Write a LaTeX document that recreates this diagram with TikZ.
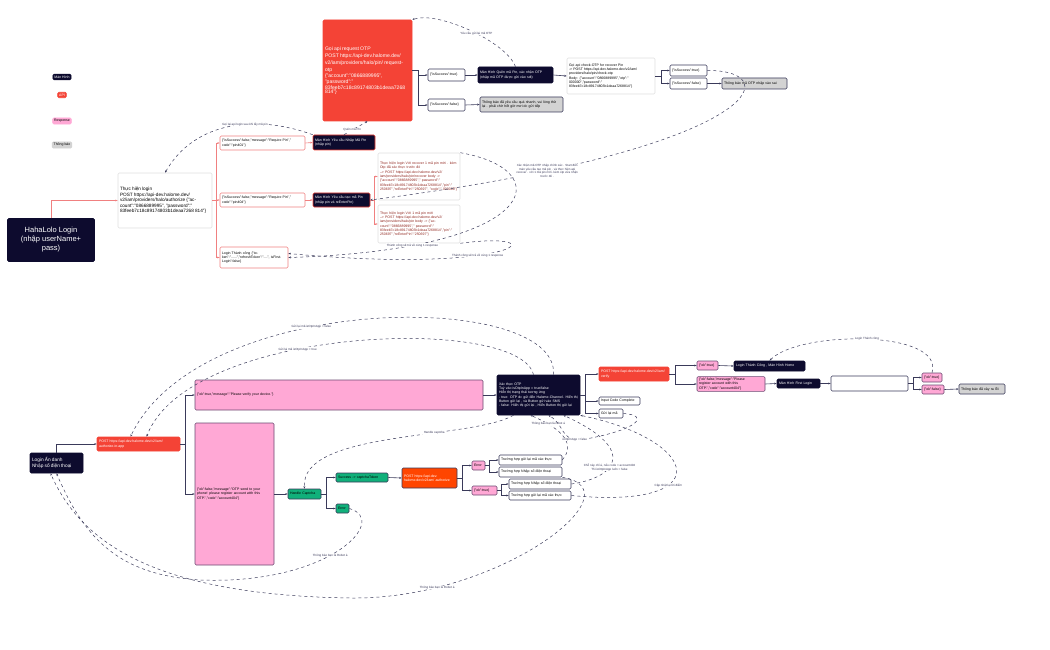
\documentclass[tikz,border=0pt]{standalone}
\usepackage{fontspec}
\setmainfont{Liberation Sans}
\usetikzlibrary{arrows.meta}
\definecolor{dk}{HTML}{0D0B2E}
\definecolor{apired}{HTML}{F44336}
\definecolor{pk}{HTML}{FFA8D5}
\definecolor{pkb}{HTML}{6B4A72}
\definecolor{gy}{HTML}{D3D3D3}
\definecolor{gr}{HTML}{10B07A}
\definecolor{lr}{HTML}{F08080}
\definecolor{ln}{HTML}{3A3A5A}
\definecolor{org}{HTML}{FF4500}
\newcommand\bx[7]{\node[#2,minimum width=\dimexpr #5pt-#3pt\relax,minimum height=\dimexpr #6pt-#4pt\relax,text width=\dimexpr #5pt-#3pt-4pt\relax] (#1) at ({(#3+#5)/2},{(#4+#6)/2}) {#7};}
\tikzset{
 base/.style={draw,rounded corners=1.2pt,inner sep=1.5pt,font=\fontsize{3.5}{4.3}\selectfont,align=left,line width=0.6pt},
 scr/.style={base,fill=dk,draw=dk,text=white},
 scrr/.style={base,fill=dk,draw=apired,text=white},
 api/.style={base,fill=apired,draw=apired,text=white},
 resp/.style={base,fill=pk,draw=pkb},
 note/.style={base,fill=gy,draw=ln},
 plain/.style={base,fill=white,draw=gray!25},
 outl/.style={base,fill=white,draw=ln},
 redo/.style={base,fill=white,draw=lr},
 grn/.style={base,fill=gr,draw=ln},
 conn/.style={draw=ln,line width=0.6pt,-{Stealth[length=2.5pt]}},
 rconn/.style={draw=lr,line width=0.6pt,-{Stealth[length=2.5pt]}},
 dsh/.style={draw=ln,dashed,line width=0.5pt,-{Stealth[length=2.5pt]}},
 lab/.style={font=\fontsize{3}{3.6}\selectfont,fill=white,inner sep=0.5pt,align=center,text=ln},
}
\begin{document}
\begin{tikzpicture}[x=1pt,y=-1pt]
\useasboundingbox (0,0) rectangle (1050,650);
% legend
\node[scr,align=center] (l1) at (62,77) {Màn Hình};
\node[api,align=center] (l2) at (62,95) {API};
\node[resp,draw=pk,align=center] (l3) at (62,121) {Response};
\node[note,draw=gy,align=center] (l4) at (62,145) {Thông báo};
% top part
\node[scr,align=center,font=\fontsize{7.5}{9}\selectfont,minimum width=87pt,minimum height=43pt] (hl) at (51,240) {HahaLolo Login\\(nhập userName+\\pass)};
\bx{login}{plain}{118}{173}{212}{228}{\fontsize{4.7}{6.3}\selectfont Thực hiện login\\POST https://api-dev.halome.dev/ v2/iam/providers/halo/authorize \{"account":"0866889995", "password":" 83feeb7c18c89174803b1deaa7268 814"\}}
\bx{r1}{redo}{220}{136}{305}{150}{\{"isSuccess":false,"message":"Require Pin"," code":"pin401"\}}
\bx{r2}{redo}{220}{193}{305}{207}{\{"isSuccess":false,"message":"Require Pin"," code":"pin404"\}}
\bx{r3}{redo}{220}{247}{288}{268}{Login Thành công \{"token":"......","refreshToken":"....", isFirstLogin":false\}}
\bx{pin1}{scrr}{313}{135}{375}{150}{Màn Hình Yêu cầu Nhập Mã Pin (nhập pin)}
\bx{pin2}{scrr}{313}{193}{370}{207}{Màn Hình Yêu cầu tạo mã Pin (nhập pin và reEnterPin)}
\bx{otp}{api}{323}{20}{412}{121}{\fontsize{5.1}{7.2}\selectfont Gọi api request OTP\\POST https://api-dev.halome.dev/ v2/iam/providers/halo/pin/ request-otp\\\{"account":"0866889995", "password":" 83feeb7c18c89174803b1deaa7268 814"\}}
\bx{t1}{plain}{378}{153}{460}{200}{\color{apired!60!black}Thực hiện login Với recover 1 mã pin mới . kèm Otp đã xác thực trước đó\\--> POST https://api-dev.halome.dev/v2/ iam/providers/halo/pin/recover body -> \{"account":"0866889995"," password":" 83feeb7c18c89174803b1deaa7268814","pin":" 250697","reEnterPin":"250697", "code":" 000000"\}}
\bx{t2}{plain}{378}{205}{460}{243}{\color{apired!60!black}Thực hiện login Với 1 mã pin mới\\--> POST https://api-dev.halome.dev/v2/ iam/providers/halo/pin body -> \{"account":"0866889995"," password":" 83feeb7c18c89174803b1deaa7268814","pin":" 250697","reEnterPin":"250697"\}}
\bx{st}{outl}{428}{69}{465}{81}{\{"isSuccess":true\}}
\bx{sf}{outl}{428}{99}{465}{111}{\{"isSuccess":false\}}
\bx{forgot}{scr}{478}{67}{553}{83}{Màn Hình Quên mã Pin, xác nhận OTP (nhập mã OTP được gửi vào sdt)}
\bx{nt1}{note}{480}{97}{563}{112}{Thông báo đã yêu cầu quá nhanh, vui lòng thử lại . phải chờ hết giờ mơi dc gửi tiếp}
\bx{chk}{plain}{567}{58}{655}{94}{Gọi api check-OTP for recover Pin\\-> POST https://api-dev.halome.dev/v2/iam/ providers/halo/pin/check-otp\\ Body: \{"account":"0866889995","otp":" 000000","password":" 83feeb7c18c89174803b1deaa7268814"\}}
\bx{ct}{outl}{670}{65}{707}{76}{\{"isSuccess":true\}}
\bx{cf}{outl}{670}{78}{707}{89}{\{"isSuccess":false\}}
\bx{nt2}{note}{722}{78}{787}{89}{Thông báo mã OTP nhập vào sai}
% top connectors
\draw[rconn] (hl.north) |- (login.west);
\foreach \t in {r1,r2,r3}{\draw[rconn] (login.east) -- ++(4,0) |- (\t.west);}
\draw[rconn] (r1.east) -- (pin1.west);
\draw[rconn] (r2.east) -- (pin2.west);
\draw[rconn] (pin2.east) -- ++(4,0) |- (t1.west);
\draw[rconn] (pin2.east) -- ++(4,0) |- (t2.west);
\draw[conn] (otp.east) -- ++(6,0) |- (st.west);
\draw[conn] (otp.east) -- ++(6,0) |- (sf.west);
\draw[conn] (st.east) -- (forgot.west);
\draw[conn] (sf.east) -- (nt1.west);
\draw[conn] (forgot.east) -- (chk.west);
\draw[conn] (chk.east) -- ++(6,0) |- (ct.west);
\draw[conn] (chk.east) -- ++(6,0) |- (cf.west);
\draw[conn] (cf.east) -- (nt2.west);
% top dashed
\draw[dsh] (pin1.north) -- node[lab,pos=0.35]{Quên mã Pin} (otp.south);
\draw[dsh] (pin1.north west) to[out=160,in=60] node[lab,pos=0.4]{Gọi lại api login sau khi lấy mã pin} (login.north);
\draw[dsh] (forgot.north) to[out=110,in=20,looseness=0.6] node[lab,pos=0.45]{Yêu cầu gửi lại mã OTP} (otp.north east);
\draw[dsh] (ct.east) .. controls (790,70) and (760,150) .. node[lab,pos=0.82]{Xác nhận mã OTP nhập chính xác . Start đến\\màn yêu cầu tạo mã pin . và thực hiện api\\recover . với 1 mã pin mới. kèm otp vừa nhận\\trước đó .} (pin2.east);
\draw[dsh] (t1.north east) .. controls (560,170) and (540,250) .. node[lab,pos=0.8]{Thành công sẽ trả về cùng 1 response} (r3.east);
\draw[dsh] (t2.south east) .. controls (560,230) and (520,275) .. node[lab,pos=0.6]{Thành công sẽ trả về cùng 1 response} ([yshift=4pt]r3.east);
% bottom part
\bx{anon}{scr}{30}{453}{83}{473}{\fontsize{4.8}{6.2}\selectfont Login Ẩn danh\\Nhập số điện thoại}
\bx{inapp}{api}{97}{437}{180}{451}{POST https://api-dev.halome.dev/v2/iam/ authorize-in-app}
\bx{pv}{resp}{195}{380}{483}{410}{\{"ok":true,"message":"Please verify your device."\}}
\bx{pr}{resp}{195}{423}{274}{565}{\{"ok":false,"message":"OTP send to your phone! please register account with this OTP.","code":"account404"\}}
\bx{hc}{grn}{288}{489}{321}{499}{Handle Captcha}
\bx{sc}{grn}{336}{473}{388}{482}{Success -> captchaToken}
\bx{er}{grn}{336}{504}{349}{513}{Error}
\bx{auth}{base,fill=org,draw=ln,text=white}{402}{468}{457}{488}{POST https://api-dev. halome.dev/v2/iam/ authorize}
\bx{e2}{resp}{472}{461}{485}{470}{Error}
\bx{ok2}{resp}{472}{486}{497}{495}{\{"ok":true\}}
\bx{c1}{outl}{499}{455}{562}{465}{Trường hợp gửi lại mã xác thực}
\bx{c2}{outl}{499}{467}{562}{477}{Trường hợp Nhập số điện thoại}
\bx{c3}{outl}{509}{479}{571}{489}{Trường hợp Nhập số điện thoại}
\bx{c4}{outl}{509}{491}{571}{500}{Trường hợp gửi lại mã xác thực}
\bx{xotp}{scr}{497}{375}{580}{415}{Xác thực OTP\\Tuỳ vào isOtpInApp = true/false\\Hiển thị trạng thái tương ứng\\- true: OTP dc gửi đến Halome-Channel. Hiển thị Button gửi lại , và Button gửi vào SMS\\- false: Hiển thị gửi lại , Hiển Button thị gửi lại}
\bx{ver}{api}{599}{367}{669}{381}{POST https://api-dev.halome.dev/v2/iam/ verify}
\bx{icc}{outl}{599}{397}{640}{405}{Input Code Complete}
\bx{resend}{outl}{599}{409}{623}{418}{Gửi lại mã}
\bx{okt}{resp}{697}{361}{718}{370}{\{"ok":true\}}
\bx{home}{scr}{734}{361}{805}{371}{Login Thành Công , Màn Hình Home}
\bx{okf}{resp}{697}{377}{765}{391}{\{"ok":false,"message":"Please register account with this OTP.","code":"account404"\}}
\bx{first}{scr}{777}{379}{820}{388}{Màn Hình First Login}
\bx{empty}{outl}{831}{376}{908}{391}{}
\bx{ok3}{resp}{922}{373}{942}{382}{\{"ok":true\}}
\bx{ok4}{resp}{922}{385}{944}{394}{\{"ok":false\}}
\bx{nt3}{note}{959}{384}{1005}{394}{Thông báo đã xảy ra lỗi}
% bottom connectors
\draw[conn] (anon.north) |- (inapp.west);
\draw[conn] (inapp.east) -- ++(5,0) |- (pv.west);
\draw[conn] (inapp.east) -- ++(5,0) |- (pr.west);
\draw[conn] (pv.east) -- (xotp.west);
\draw[conn] (pr.east) -- (hc.west);
\draw[conn] (hc.east) -- ++(5,0) |- (sc.west);
\draw[conn] (hc.east) -- ++(5,0) |- (er.west);
\draw[conn] (sc.east) -- (auth.west);
\draw[conn] (auth.east) -- ++(5,0) |- (e2.west);
\draw[conn] (auth.east) -- ++(5,0) |- (ok2.west);
\draw[conn] (e2.east) -- ++(4,0) |- (c1.west);
\draw[conn] (e2.east) -- ++(4,0) |- (c2.west);
\draw[conn] (ok2.east) -- ++(4,0) |- (c3.west);
\draw[conn] (ok2.east) -- ++(4,0) |- (c4.west);
\draw[conn] (xotp.east) -- ++(5,0) |- (ver.west);
\draw[conn] (xotp.east) -- ++(5,0) |- (icc.west);
\draw[conn] (xotp.east) -- ++(5,0) |- (resend.west);
\draw[conn] (ver.east) -- ++(6,0) |- (okt.west);
\draw[conn] (ver.east) -- ++(6,0) |- (okf.west);
\draw[conn] (okt.east) -- (home.west);
\draw[conn] (okf.east) -- (first.west);
\draw[conn] (first.east) -- (empty.west);
\draw[conn] (empty.east) -- ++(5,0) |- (ok3.west);
\draw[conn] (empty.east) -- ++(5,0) |- (ok4.west);
\draw[conn] (ok4.east) -- (nt3.west);
% bottom dashed
\draw[dsh] ([xshift=15pt]xotp.north) .. controls (560,290) and (200,290) .. node[lab,pos=0.6]{Gửi lại mã isOtpInApp = false} ([xshift=-8pt]inapp.north);
\draw[dsh] ([xshift=-5pt]xotp.north) .. controls (520,315) and (190,325) .. node[lab,pos=0.6]{Gửi lại mã isOtpInApp = true} ([xshift=8pt]inapp.north);
\draw[dsh] (c1.east) .. controls (575,445) and (565,430) .. node[lab,pos=0.8]{Thông báo bạn là robot á} ([xshift=-8pt]xotp.south);
\draw[dsh] ([xshift=-25pt]xotp.south) .. controls (470,440) and (300,430) .. node[lab,pos=0.35]{Handle captcha} (hc.north);
\draw[dsh] (resend.east) .. controls (650,415) and (640,430) .. (580,440) .. controls (560,440) and (565,425) .. node[lab,pos=0.1]{isOtpInApp = false} ([xshift=10pt]xotp.south);
\draw[dsh] (c3.east) .. controls (615,478) and (640,450) .. node[lab,pos=0.4]{Chỗ này chỉ á, nếu code = account404\\Thì isOtpInApp luôn = false} ([xshift=25pt]xotp.south);
\draw[dsh] (c4.east) .. controls (720,510) and (700,440) .. node[lab,pos=0.35]{Cập nhật lại lời điểm} (xotp.south east);
\draw[dsh] (er.east) .. controls (390,520) and (330,585) .. node[lab,pos=0.55]{Thông báo bạn là Robot á} (200,580) .. controls (120,575) and (85,540) .. (anon.south);
\draw[dsh] (c2.south east) .. controls (640,490) and (500,600) .. node[lab,pos=0.8]{Thông báo bạn là Robot á} (350,598) .. controls (150,595) and (80,540) .. ([xshift=-6pt]anon.south);
\draw[dsh] (ok3.north) .. controls (945,330) and (800,330) .. node[lab,pos=0.5]{Login Thành công} (home.north);
\end{tikzpicture}
\end{document}
